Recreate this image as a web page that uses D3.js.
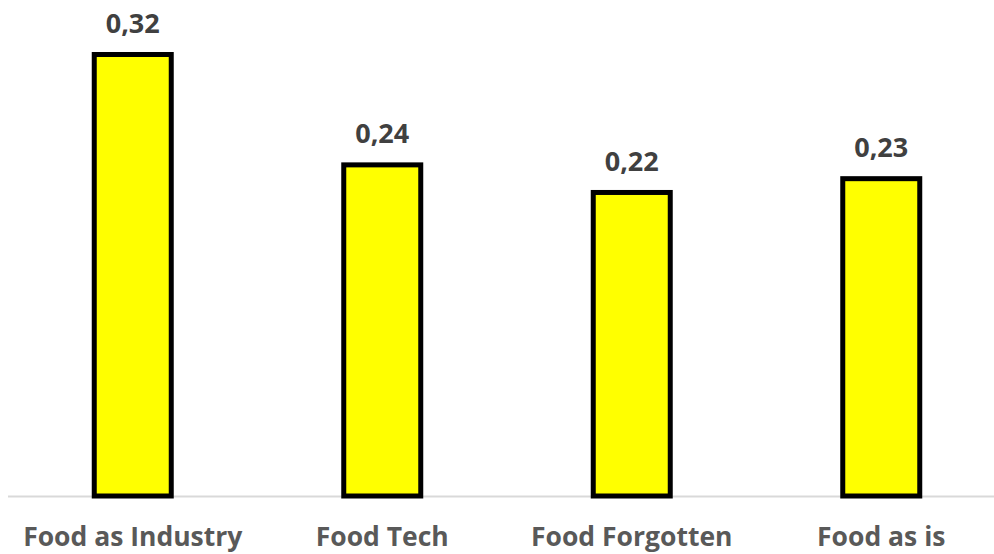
<!DOCTYPE html>
<html>
<head>
<meta charset="utf-8">
<script src="https://cdn.jsdelivr.net/npm/d3@7"></script>
<style>
  html, body { margin: 0; padding: 0; background: #ffffff; }
  svg { display: block; }
</style>
</head>
<body>
<div id="chart"></div>
<script>
// Categories and their scores
const categories = ["Food as Industry", "Food Tech", "Food Forgotten", "Food as is"];
const values = [0.32, 0.24, 0.22, 0.23];
const valueLabels = ["0,32", "0,24", "0,22", "0,23"];

const width = 994, height = 554;
const baseY = 496;

const svg = d3.select("#chart").append("svg")
  .attr("width", width)
  .attr("height", height);

const x = d3.scaleBand()
  .domain(categories)
  .range([8, 1006])
  .paddingInner(0.69)
  .paddingOuter(0.345);

const y = d3.scaleLinear()
  .domain([0, 0.32])
  .range([baseY, 54.5]);

// baseline axis
svg.append("line")
  .attr("x1", 8).attr("x2", width)
  .attr("y1", baseY + 0.5).attr("y2", baseY + 0.5)
  .attr("stroke", "#d9d9d9")
  .attr("stroke-width", 2);

const data = categories.map((c, i) => ({ c, v: values[i], label: valueLabels[i] }));

// bars
svg.selectAll("rect.bar").data(data).enter().append("rect")
  .attr("class", "bar")
  .attr("x", d => x(d.c) + x.bandwidth() / 2 - 38.5)
  .attr("width", 77)
  .attr("y", d => y(d.v))
  .attr("height", d => y(0) - y(d.v))
  .attr("fill", "#ffff00")
  .attr("stroke", "#000000")
  .attr("stroke-width", 5);

// value labels
svg.selectAll("text.val").data(data).enter().append("text")
  .attr("class", "val")
  .attr("x", d => x(d.c) + x.bandwidth() / 2)
  .attr("y", d => y(d.v) - 21.5)
  .attr("text-anchor", "middle")
  .attr("font-family", "'Open Sans', sans-serif")
  .attr("font-weight", "bold")
  .attr("font-size", 27)
  .attr("fill", "#404040")
  .text(d => d.label);

// category labels
svg.selectAll("text.cat").data(data).enter().append("text")
  .attr("class", "cat")
  .attr("x", d => x(d.c) + x.bandwidth() / 2)
  .attr("y", 546)
  .attr("text-anchor", "middle")
  .attr("font-family", "'Open Sans', sans-serif")
  .attr("font-weight", "bold")
  .attr("font-size", 26.5)
  .attr("fill", "#595959")
  .text(d => d.c);
</script>
</body>
</html>
